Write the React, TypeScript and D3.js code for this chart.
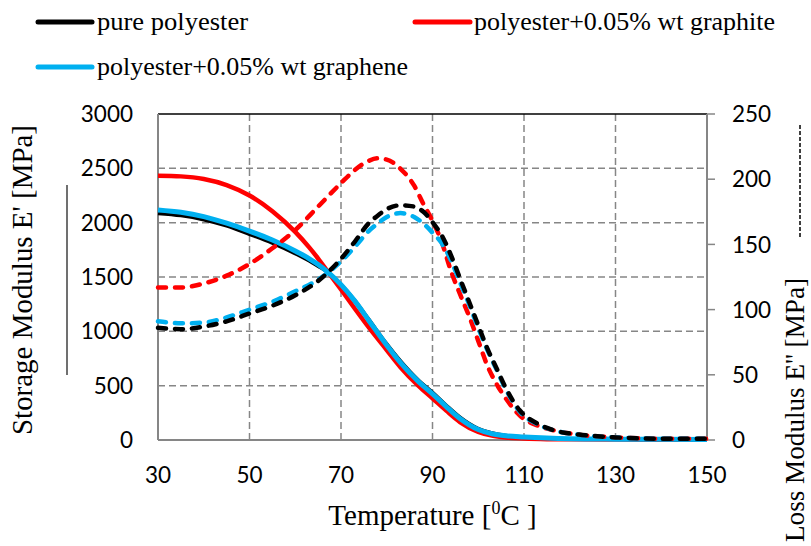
import React from 'react';
import * as d3 from 'd3';

// storage modulus E' (left axis, MPa) - solid lines
const storageTemps = [30, 35, 40, 45, 50, 55, 60, 63, 65, 67, 70, 73, 76, 80, 83, 87, 90, 93, 96, 100, 103, 106, 110, 115, 120, 130, 140, 150];
const storagePure = [2085, 2065, 2027, 1970, 1893, 1812, 1715, 1650, 1600, 1548, 1432, 1285, 1115, 885, 728, 548, 438, 320, 210, 105, 64, 42, 28, 17, 11, 7, 5, 5];
const storageGraphite = [2432, 2426, 2402, 2346, 2250, 2105, 1915, 1775, 1670, 1555, 1385, 1210, 1040, 828, 670, 495, 383, 270, 165, 75, 40, 23, 14, 8, 6, 4, 3, 3];
const storageGraphene = [2117, 2095, 2055, 1995, 1923, 1840, 1740, 1670, 1615, 1550, 1430, 1280, 1105, 872, 712, 535, 425, 308, 198, 96, 58, 39, 28, 18, 12, 8, 6, 5];

// loss modulus E'' (right axis, MPa) - dashed lines
const lossTemps = [30, 35, 40, 45, 50, 55, 60, 65, 70, 73, 76, 78, 80, 83, 86, 88, 90, 92, 94, 96, 98, 100, 102, 104, 106, 109, 113, 117, 122, 130, 140, 150];
const lossPure = [86, 85, 87, 91, 97, 103, 111, 122, 139, 152, 166, 172, 177, 180, 179, 175, 167, 157, 142, 124, 106, 88, 70, 55, 40, 23, 12.5, 7, 4.2, 2, 1, 1];
const lossGraphite = [117, 117, 120, 126, 135, 147, 161, 179, 197, 207, 214, 216, 215, 208, 195, 181, 168, 152, 130, 112, 95, 76, 57, 43, 32, 19, 11, 7, 4, 2, 1, 1];
const lossGraphene = [91, 89.5, 90, 94, 100, 106, 114, 123, 137, 148, 160, 166, 171, 174, 171, 166, 159, 151, 138, 121, 104, 86, 69, 54, 39, 22, 12, 7, 4, 2, 1, 1];

const xTicks = [30, 50, 70, 90, 110, 130, 150];
const leftTicks = [0, 500, 1000, 1500, 2000, 2500, 3000];
const rightTicks = [0, 50, 100, 150, 200, 250];

const seriesNames = ['pure polyester', 'polyester+0.05% wt graphite', 'polyester+0.05% wt graphene'];
const seriesColors = ['#000000', '#ff0000', '#00b0f0'];

const W = 811;
const H = 546;
const serif = "'Liberation Serif', 'Times New Roman', serif";
const sans = "Lato, 'Open Sans', sans-serif";
const gridColor = '#868686';

export default function App() {
  const x = d3.scaleLinear().domain([30, 150]).range([158, 707]);
  const yL = d3.scaleLinear().domain([0, 3000]).range([440, 114]);
  const yR = d3.scaleLinear().domain([0, 250]).range([440, 114]);

  const solid = (vals: number[]) =>
    d3.line<number>().x((_, i) => x(storageTemps[i])).y(d => yL(d)).curve(d3.curveMonotoneX)(vals) || '';
  const dashed = (vals: number[]) =>
    d3.line<number>().x((_, i) => x(lossTemps[i])).y(d => yR(d)).curve(d3.curveMonotoneX)(vals) || '';

  return (
    <svg width={W} height={H} style={{ position: 'absolute', left: 0, top: 0, background: '#fff' }}>
      {/* grid */}
      {leftTicks.filter(t => t > 0 && t < 3000).map(t => (
        <line key={'h' + t} x1={x(30)} x2={x(150)} y1={yL(t)} y2={yL(t)} stroke={gridColor} strokeWidth={1.5} strokeDasharray="7,4" />
      ))}
      {xTicks.filter(t => t > 30 && t < 150).map(t => (
        <line key={'v' + t} x1={x(t)} x2={x(t)} y1={yL(3000)} y2={yL(0)} stroke={gridColor} strokeWidth={1.5} strokeDasharray="7,4" />
      ))}
      <line x1={x(30)} x2={x(150)} y1={yL(3000)} y2={yL(3000)} stroke="#000" strokeWidth={1.5} />

      {/* axes */}
      <line x1={x(30)} x2={x(30)} y1={yL(0)} y2={yL(3000)} stroke={gridColor} strokeWidth={2} />
      <line x1={x(30)} x2={x(150)} y1={yL(0)} y2={yL(0)} stroke={gridColor} strokeWidth={2} />
      <line x1={x(150)} x2={x(150)} y1={yR(0)} y2={yR(250)} stroke={gridColor} strokeWidth={2} />
      {rightTicks.map(t => (
        <line key={'rt' + t} x1={x(150)} x2={x(150) + 8} y1={yR(t)} y2={yR(t)} stroke={gridColor} strokeWidth={1.5} />
      ))}

      {/* solid storage modulus */}
      <path d={solid(storageGraphite)} fill="none" stroke={seriesColors[1]} strokeWidth={4.5} />
      <path d={solid(storagePure)} fill="none" stroke={seriesColors[0]} strokeWidth={3.5} />
      <path d={solid(storageGraphene)} fill="none" stroke={seriesColors[2]} strokeWidth={5} />

      {/* dashed loss modulus */}
      <path d={dashed(lossGraphite)} fill="none" stroke={seriesColors[1]} strokeWidth={4.5} strokeDasharray="8,9" strokeLinecap="round" />
      <path d={dashed(lossGraphene)} fill="none" stroke={seriesColors[2]} strokeWidth={4.5} strokeDasharray="8,9" strokeLinecap="round" />
      <path d={dashed(lossPure)} fill="none" stroke={seriesColors[0]} strokeWidth={4.5} strokeDasharray="8,9" strokeLinecap="round" />

      {/* tick labels */}
      {xTicks.map(t => (
        <text key={'xl' + t} x={x(t)} y={483} textAnchor="middle" fontFamily={sans} fontSize={22.5} fill="#000">{t}</text>
      ))}
      {leftTicks.map(t => (
        <text key={'ll' + t} x={133} y={yL(t)} dy="0.36em" textAnchor="end" fontFamily={sans} fontSize={22.5} fill="#000">{t}</text>
      ))}
      {rightTicks.map(t => (
        <text key={'rl' + t} x={732} y={yR(t)} dy="0.36em" textAnchor="start" fontFamily={sans} fontSize={22.5} fill="#000">{t}</text>
      ))}

      {/* axis titles */}
      <text x={432.5} y={525} textAnchor="middle" fontFamily={serif} fontSize={29} fill="#000">
        Temperature [<tspan fontSize={18} dy={-11}>0</tspan><tspan dy={11}>C ]</tspan>
      </text>
      <text transform="translate(32,280) rotate(-90)" textAnchor="middle" fontFamily={serif} fontSize={29} fill="#000" textLength={310} lengthAdjust="spacingAndGlyphs">
        Storage Modulus E' [MPa]
      </text>
      <line x1={67} x2={67} y1={185} y2={375} stroke="#404040" strokeWidth={1.5} />
      <text transform="translate(804,278) rotate(-90)" textAnchor="end" fontFamily={serif} fontSize={27} fill="#000" textLength={264} lengthAdjust="spacingAndGlyphs">
        Loss Modulus E'' [MPa]
      </text>
      <line x1={800} x2={800} y1={125} y2={237} stroke="#000" strokeWidth={1.5} strokeDasharray="4,2" />

      {/* legend */}
      <line x1={38} x2={92} y1={22} y2={22} stroke={seriesColors[0]} strokeWidth={5} strokeLinecap="round" />
      <text x={97} y={30} fontFamily={serif} fontSize={26} textLength={151} lengthAdjust="spacingAndGlyphs">{seriesNames[0]}</text>
      <line x1={415} x2={470} y1={22} y2={22} stroke={seriesColors[1]} strokeWidth={5} strokeLinecap="round" />
      <text x={474} y={30} fontFamily={serif} fontSize={26} textLength={301} lengthAdjust="spacingAndGlyphs">{seriesNames[1]}</text>
      <line x1={38} x2={92} y1={67} y2={67} stroke={seriesColors[2]} strokeWidth={5} strokeLinecap="round" />
      <text x={97} y={75} fontFamily={serif} fontSize={26} textLength={311} lengthAdjust="spacingAndGlyphs">{seriesNames[2]}</text>
    </svg>
  );
}
